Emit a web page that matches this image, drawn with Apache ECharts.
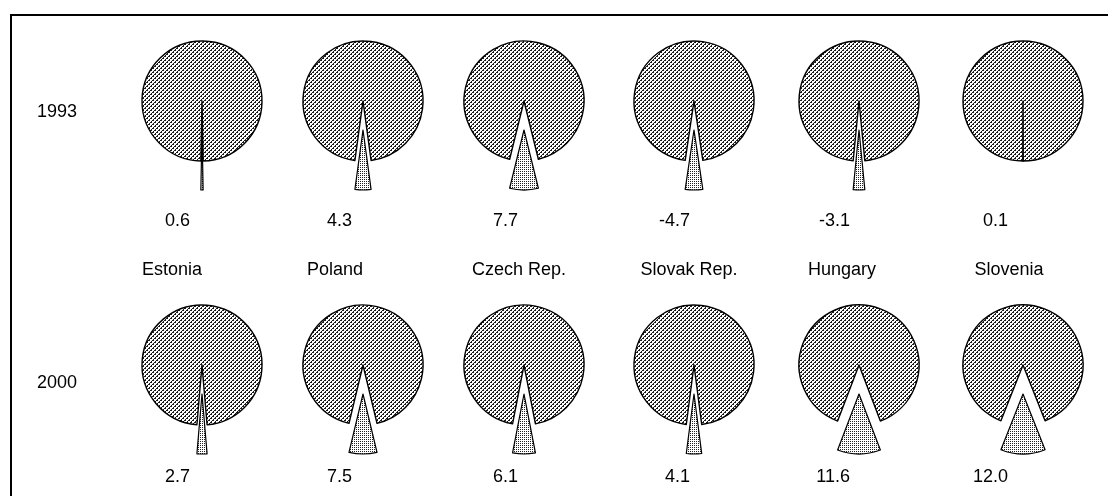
<!DOCTYPE html>
<html>
<head>
<meta charset="utf-8">
<script src="https://cdn.jsdelivr.net/npm/echarts@6/dist/echarts.min.js"></script>
<style>
html,body{margin:0;padding:0;background:#fff;}
#chart{width:1108px;height:496px;}
</style>
</head>
<body>
<div id="chart"></div>
<script>
// ---- data ----
var countries = ['Estonia', 'Poland', 'Czech Rep.', 'Slovak Rep.', 'Hungary', 'Slovenia'];
var years = ['1993', '2000'];
var values1993 = [0.6, 4.3, 7.7, -4.7, -3.1, 0.1];
var values2000 = [2.7, 7.5, 6.1, 4.1, 11.6, 12.0];

// ---- layout (style only) ----
var colX = [202, 363, 524, 694, 859, 1023];
var rowY = [101, 365];
var valueRight = [190, 352, 518, 690, 850, 1008];
var nameCenter = [172, 335, 519, 689, 842, 1009];
var R = 60;
var FONT = 'Liberation Sans, Arial, sans-serif';
var FS = 18;

function makePattern(rowsP, ink) {
  var c = document.createElement('canvas');
  c.width = rowsP[0].length; c.height = rowsP.length;
  var ctx = c.getContext('2d');
  ctx.fillStyle = '#fff'; ctx.fillRect(0, 0, c.width, c.height);
  ctx.fillStyle = ink;
  rowsP.forEach(function (row, y) {
    for (var x = 0; x < row.length; x++) if (row[x] === 'X') ctx.fillRect(x, y, 1, 1);
  });
  return c;
}
var mainFill = { image: makePattern(['XX..', '...X', '..XX', '.X..'], '#1a1a1a'), repeat: 'repeat' };
var sliceFill = { image: makePattern(['X.', '..'], '#222'), repeat: 'repeat' };

var series = [];
var graphics = [];
var rows = [values1993, values2000];
rows.forEach(function (vals, r) {
  vals.forEach(function (v, i) {
    var a = Math.abs(v);
    var sDeg = a * 3.6;
    series.push({
      type: 'pie',
      center: [colX[i], rowY[r]],
      radius: [0, R],
      startAngle: -90 + sDeg / 2,
      clockwise: true,
      selectedMode: 'multiple',
      selectedOffset: 29,
      animation: false,
      silent: true,
      label: { show: false },
      labelLine: { show: false },
      emphasis: { disabled: true },
      minAngle: 0,
      avoidLabelOverlap: false,
      data: [
        { name: countries[i] + ' share', value: a, selected: a >= 0.5,
          itemStyle: { color: sliceFill, borderColor: '#000', borderWidth: 1.2 } },
        { name: countries[i] + ' rest', value: 100 - a,
          itemStyle: { color: mainFill, borderColor: '#000', borderWidth: 1.4 } }
      ]
    });
    graphics.push({
      type: 'text',
      right: 1108 - valueRight[i],
      top: (r === 0 ? 212 : 468),
      style: { text: v.toFixed(1), font: FS + 'px ' + FONT, fill: '#000' }
    });
  });
});
countries.forEach(function (c, i) {
  graphics.push({
    type: 'text',
    x: nameCenter[i],
    y: 261,
    style: { text: c, align: 'center', verticalAlign: 'top', font: FS + 'px ' + FONT, fill: '#000' }
  });
});
years.forEach(function (y, r) {
  graphics.push({
    type: 'text',
    x: 37,
    y: (r === 0 ? 103 : 374),
    style: { text: y, font: FS + 'px ' + FONT, fill: '#000' }
  });
});
graphics.push({
  type: 'rect',
  shape: { x: 11, y: 15, width: 1120, height: 500 },
  style: { fill: 'none', stroke: '#000', lineWidth: 2 },
  z: 0
});

var chart = echarts.init(document.getElementById('chart'), null, { renderer: 'canvas' });
chart.setOption({
  backgroundColor: '#fff',
  animation: false,
  series: series,
  graphic: graphics
});
</script>
</body>
</html>
